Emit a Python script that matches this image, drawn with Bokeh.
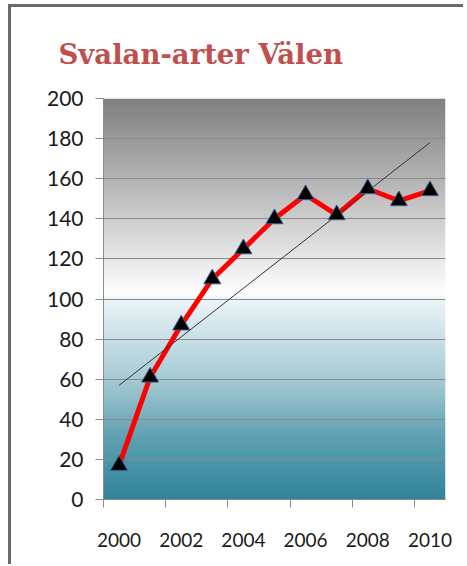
import numpy as np
from bokeh.plotting import figure
from bokeh.models import Range1d, FixedTicker
from bokeh.embed import file_html
from bokeh.resources import INLINE

# Data
years = [2000, 2001, 2002, 2003, 2004, 2005, 2006, 2007, 2008, 2009, 2010]
species = [17, 61, 87, 110, 125, 140, 152, 142, 155, 149, 154]
title_text = "Svalan-arter Välen"
x_tick_labels = [2000, 2002, 2004, 2006, 2008, 2010]
y_ticks = list(range(0, 201, 20))

x0, x1 = years[0] - 0.5, years[-1] + 0.5
y0, y1 = 0, 200

p = figure(width=455, height=560, output_backend="svg", toolbar_location=None,
           x_range=Range1d(x0, x1), y_range=Range1d(y0, y1),
           min_border_left=92, min_border_right=21, min_border_top=90, min_border_bottom=68,
           styles={"border-left": "3px solid #6b6b6b", "border-top": "3px solid #6b6b6b",
                   "margin-left": "8px", "margin-top": "4px"})
p.outline_line_color = None
p.background_fill_color = "white"
p.border_fill_color = "white"

# Title
p.title.text = title_text
p.title.text_color = "#c0504d"
p.title.text_font = "DejaVu Serif"
p.title.text_font_style = "bold"
p.title.text_font_size = "27.5px"
p.title.align = "left"
p.title.offset = -45
p.title.standoff = 57

# Gradient background (style only) as an image
def hex2rgb(h):
    h = h.lstrip("#")
    return np.array([int(h[i:i + 2], 16) for i in (0, 2, 4)], dtype=float)

stops_v = [0, 30, 60, 90, 100.5, 102, 140, 200]
stops_c = ["#31849b", "#5c9fb1", "#a6cad4", "#d9eaef", "#eef6f8", "#ffffff", "#cdcdcd", "#7f7f7f"]
stops_rgb = np.array([hex2rgb(c) for c in stops_c])
nrows = 400
mids = y0 + (np.arange(nrows) + 0.5) * (y1 - y0) / nrows
img = np.zeros((nrows, 1), dtype=np.uint32)
view = img.view(dtype=np.uint8).reshape((nrows, 1, 4))
for k in range(3):
    view[:, 0, k] = np.round(np.interp(mids, stops_v, stops_rgb[:, k])).astype(np.uint8)
view[:, 0, 3] = 255
p.image_rgba(image=[img], x=x0, y=y0, dw=x1 - x0, dh=y1 - y0, level="image")

# Grid
p.xgrid.visible = False
p.ygrid.ticker = FixedTicker(ticks=y_ticks)
p.ygrid.grid_line_color = "#8a8a8a"
p.ygrid.grid_line_width = 1
p.ygrid.level = "underlay"

# Axes
label_font = "Lato"
p.yaxis.ticker = FixedTicker(ticks=y_ticks)
p.yaxis.major_tick_out = 8
p.yaxis.major_tick_in = 0
p.yaxis.minor_tick_line_color = None
p.yaxis.axis_line_color = "#8a8a8a"
p.yaxis.major_tick_line_color = "#8a8a8a"
p.yaxis.major_label_text_font = label_font
p.yaxis.major_label_text_font_size = "21px"
p.yaxis.major_label_text_color = "#1a1a1a"
p.yaxis.major_label_standoff = 12

p.xaxis.ticker = FixedTicker(ticks=x_tick_labels,
                             minor_ticks=[y - 0.5 for y in x_tick_labels])
p.xaxis.major_tick_out = 0
p.xaxis.major_tick_in = 0
p.xaxis.major_tick_line_color = None
p.xaxis.minor_tick_out = 8
p.xaxis.minor_tick_in = 0
p.xaxis.minor_tick_line_color = "#8a8a8a"
p.xaxis.axis_line_color = "#8a8a8a"
p.xaxis.major_label_text_font = label_font
p.xaxis.major_label_text_font_size = "19px"
p.xaxis.major_label_text_color = "#1a1a1a"
p.xaxis.major_label_standoff = 25

# Series
p.line(years, species, line_color="#ff0000", line_width=5)

# Linear trend line derived from the data
k, b = np.polyfit(years, species, 1)
p.line([years[0], years[-1]], [k * years[0] + b, k * years[-1] + b],
       line_color="#333333", line_width=1)

p.scatter(years, species, marker="triangle", size=17, fill_color="black",
          line_color="#3b5e8c", line_width=1)

open("out.html", "w").write(file_html(p, INLINE))
